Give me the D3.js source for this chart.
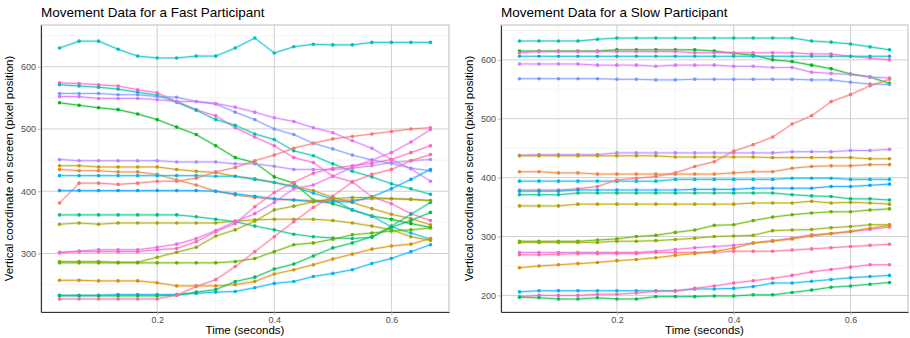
<!DOCTYPE html>
<html>
<head>
<meta charset="utf-8">
<script src="https://cdn.jsdelivr.net/npm/d3@7"></script>
<style>
  body { margin: 0; background: #fff; }
  text { font-family: "Liberation Sans", Arial, sans-serif; }
</style>
</head>
<body>
<svg id="chart" width="910" height="338"></svg>
<script>
// sample times (seconds), one frame every 1/30 s
const times = [0.0333, 0.0667, 0.1, 0.1333, 0.1667, 0.2, 0.2333, 0.2667, 0.3, 0.3333,
  0.3667, 0.4, 0.4333, 0.4667, 0.5, 0.5333, 0.5667, 0.6, 0.6333, 0.6667];

const xTicks = [0.2, 0.4, 0.6];
const fastYTicks = [300, 400, 500, 600];
const slowYTicks = [200, 300, 400, 500, 600];

// fast participant: one row per trace, colour index into the 22-hue palette
const fastHue = [11, 19, 10, 15, 17, 7, 16, 3, 1, 12, 0, 14, 9, 4, 20, 18, 5, 6, 2, 13, 8, 21];
const fastY = [
  [630, 641, 641, 628, 617, 614, 614, 617, 617, 630, 646, 622, 632, 636, 635, 635, 639, 639, 639, 639],
  [574, 573, 571, 569, 563, 558, 544, 531, 521, 502, 487, 473, 454, 446, 424, 415, 391, 380, 364, 353],
  [571, 569, 567, 564, 559, 554, 543, 530, 515, 506, 492, 483, 465, 457, 444, 432, 423, 412, 404, 395],
  [557, 557, 557, 555, 555, 552, 551, 544, 540, 527, 515, 500, 491, 477, 468, 458, 450, 445, 437, 433],
  [552, 552, 549, 549, 549, 547, 544, 544, 541, 535, 527, 518, 512, 502, 494, 481, 469, 451, 436, 416],
  [542, 538, 534, 531, 524, 515, 503, 491, 473, 454, 446, 423, 413, 386, 380, 370, 360, 355, 348, 342],
  [451, 449, 449, 449, 449, 449, 447, 447, 447, 444, 444, 440, 435, 435, 435, 437, 441, 446, 449, 451],
  [441, 441, 439, 439, 439, 439, 435, 432, 430, 424, 420, 414, 408, 401, 390, 382, 372, 363, 356, 346],
  [435, 433, 433, 431, 431, 427, 418, 410, 400, 394, 390, 387, 386, 385, 385, 386, 388, 388, 387, 385],
  [425, 425, 425, 425, 425, 425, 425, 425, 424, 424, 419, 414, 407, 397, 387, 370, 360, 343, 333, 323],
  [381, 413, 413, 411, 413, 416, 416, 421, 431, 438, 449, 458, 469, 477, 484, 488, 492, 496, 500, 502],
  [401, 401, 401, 401, 401, 401, 401, 401, 400, 396, 392, 388, 386, 383, 383, 383, 391, 404, 419, 435],
  [362, 362, 362, 362, 362, 362, 362, 359, 355, 351, 344, 338, 331, 327, 325, 324, 326, 344, 363, 382],
  [347, 349, 347, 349, 349, 349, 349, 349, 349, 352, 354, 355, 355, 355, 353, 349, 344, 338, 327, 321],
  [302, 303, 303, 303, 303, 306, 308, 319, 335, 348, 375, 398, 414, 429, 437, 441, 445, 451, 462, 473],
  [301, 304, 306, 306, 306, 310, 315, 324, 337, 351, 364, 382, 404, 410, 424, 439, 450, 462, 479, 499],
  [287, 287, 287, 286, 286, 294, 302, 310, 328, 338, 352, 370, 376, 383, 388, 390, 390, 388, 387, 385],
  [285, 285, 285, 285, 285, 285, 285, 285, 285, 287, 292, 303, 314, 317, 323, 330, 333, 336, 338, 341],
  [257, 257, 256, 256, 256, 253, 248, 248, 248, 250, 255, 267, 274, 282, 291, 299, 307, 312, 315, 324],
  [233, 233, 233, 234, 234, 234, 234, 236, 238, 239, 245, 252, 255, 263, 268, 274, 284, 292, 303, 314],
  [232, 232, 232, 232, 232, 232, 233, 238, 242, 255, 262, 275, 283, 296, 309, 317, 327, 342, 353, 366],
  [227, 227, 227, 227, 227, 227, 233, 247, 258, 279, 303, 327, 351, 374, 392, 415, 427, 435, 449, 459]
];

// slow participant
const slowHue = [10, 7, 19, 11, 17, 15, 16, 3, 1, 12, 0, 14, 9, 4, 6, 5, 18, 21, 2, 13, 20, 8];
const slowY = [
  [632, 632, 632, 632, 635, 637, 637, 637, 637, 637, 637, 637, 637, 637, 637, 632, 630, 627, 622, 617],
  [615, 615, 615, 615, 615, 617, 617, 617, 617, 617, 615, 611, 608, 600, 597, 591, 585, 576, 571, 560],
  [612, 614, 614, 614, 614, 614, 614, 614, 614, 612, 612, 612, 612, 612, 612, 610, 610, 606, 603, 600],
  [606, 606, 606, 606, 606, 606, 606, 606, 606, 606, 606, 606, 606, 606, 606, 606, 606, 606, 606, 606],
  [593, 593, 593, 593, 591, 591, 591, 589, 591, 591, 591, 589, 589, 587, 587, 579, 577, 575, 571, 569],
  [568, 568, 568, 568, 568, 567, 567, 566, 566, 567, 567, 567, 567, 567, 567, 566, 566, 562, 559, 558],
  [438, 439, 439, 439, 439, 442, 442, 442, 442, 442, 442, 442, 442, 442, 444, 444, 444, 446, 446, 448],
  [437, 437, 437, 437, 437, 437, 437, 437, 435, 435, 435, 435, 435, 434, 434, 434, 434, 434, 432, 432],
  [410, 410, 408, 408, 406, 406, 406, 406, 406, 406, 406, 408, 410, 410, 416, 419, 420, 420, 422, 422],
  [394, 394, 394, 394, 394, 394, 394, 394, 397, 397, 397, 397, 397, 397, 399, 399, 399, 397, 397, 397],
  [379, 379, 379, 381, 385, 396, 399, 402, 408, 419, 427, 445, 456, 469, 491, 505, 529, 541, 556, 567],
  [377, 377, 377, 379, 379, 379, 379, 379, 379, 380, 380, 380, 382, 382, 382, 382, 385, 385, 387, 389],
  [371, 371, 371, 374, 374, 374, 374, 374, 374, 374, 374, 374, 374, 374, 371, 369, 368, 364, 364, 362],
  [352, 352, 352, 355, 355, 355, 355, 355, 355, 355, 355, 355, 357, 357, 357, 360, 357, 358, 357, 355],
  [292, 292, 292, 292, 294, 296, 300, 302, 307, 311, 319, 320, 327, 333, 337, 340, 342, 342, 345, 347],
  [290, 290, 290, 290, 290, 292, 292, 293, 295, 297, 300, 301, 302, 310, 311, 312, 315, 317, 320, 320],
  [273, 273, 273, 273, 273, 273, 273, 275, 278, 281, 283, 285, 289, 293, 297, 303, 305, 308, 312, 316],
  [269, 269, 270, 271, 271, 271, 271, 273, 273, 273, 273, 275, 275, 275, 277, 279, 281, 283, 285, 287],
  [247, 250, 252, 254, 256, 259, 261, 264, 268, 271, 275, 280, 289, 292, 296, 301, 305, 309, 314, 319],
  [206, 208, 208, 208, 208, 208, 208, 208, 208, 211, 211, 212, 215, 221, 221, 224, 227, 230, 232, 234],
  [198, 200, 200, 200, 202, 202, 204, 207, 207, 212, 216, 221, 225, 229, 234, 240, 244, 248, 252, 252],
  [197, 196, 194, 194, 196, 194, 194, 198, 198, 198, 199, 199, 201, 201, 205, 209, 214, 216, 219, 222]
];

// ggplot-style hue palette (polar CIE-Luv, c=100, l=65)
function hclLuv(h, c, l) {
  const hr = h * Math.PI / 180;
  const u = c * Math.cos(hr), v = c * Math.sin(hr);
  const Xn = 95.047, Yn = 100, Zn = 108.883;
  const den = Xn + 15 * Yn + 3 * Zn;
  const un = 4 * Xn / den, vn = 9 * Yn / den;
  const Y = l > 8 ? Yn * Math.pow((l + 16) / 116, 3) : Yn * l / 903.3;
  const up = u / (13 * l) + un, vp = v / (13 * l) + vn;
  const X = 9 * Y * up / (4 * vp);
  const Z = Y * (12 - 3 * up - 20 * vp) / (4 * vp);
  const x = X / 100, y = Y / 100, z = Z / 100;
  const r = 3.2404542 * x - 1.5371385 * y - 0.4985314 * z;
  const g = -0.969266 * x + 1.8760108 * y + 0.041556 * z;
  const b = 0.0556434 * x - 0.2040259 * y + 1.0572252 * z;
  const gam = t => {
    t = t <= 0.0031308 ? 12.92 * t : 1.055 * Math.pow(t, 1 / 2.4) - 0.055;
    return Math.round(255 * Math.max(0, Math.min(1, t)));
  };
  return d3.rgb(gam(r), gam(g), gam(b)).formatHex();
}
const nHue = 22;
const palette = d3.range(nHue).map(i => hclLuv(15 + i * 360 / nHue, 100, 65));

const svg = d3.select("#chart");

function expand(lo, hi) {
  const pad = (hi - lo) * 0.05;
  return [lo - pad, hi + pad];
}

function drawPanel(box, title, series, hues, yTicks) {
  const allY = series.flat();
  const x = d3.scaleLinear()
    .domain(expand(d3.min(times), d3.max(times)))
    .range([box.x0, box.x1]);
  const y = d3.scaleLinear()
    .domain(expand(d3.min(allY), d3.max(allY)))
    .range([box.y1, box.y0]);

  const g = svg.append("g");

  // minor grid (half way between the major ticks)
  const step = yTicks[1] - yTicks[0];
  const yMinor = d3.range(yTicks[0] - step / 2, y.domain()[1], step).filter(v => v > y.domain()[0]);
  const xMinor = [0.1, 0.3, 0.5];
  g.append("g").selectAll("line").data(yMinor).join("line")
    .attr("x1", box.x0).attr("x2", box.x1)
    .attr("y1", d => y(d)).attr("y2", d => y(d))
    .attr("stroke", "#EFEFEF").attr("stroke-width", 0.6);
  g.append("g").selectAll("line").data(xMinor).join("line")
    .attr("y1", box.y0).attr("y2", box.y1)
    .attr("x1", d => x(d)).attr("x2", d => x(d))
    .attr("stroke", "#EFEFEF").attr("stroke-width", 0.6);

  // major grid
  g.append("g").selectAll("line").data(yTicks).join("line")
    .attr("x1", box.x0).attr("x2", box.x1)
    .attr("y1", d => y(d)).attr("y2", d => y(d))
    .attr("stroke", "#D0D0D0").attr("stroke-width", 1);
  g.append("g").selectAll("line").data(xTicks).join("line")
    .attr("y1", box.y0).attr("y2", box.y1)
    .attr("x1", d => x(d)).attr("x2", d => x(d))
    .attr("stroke", "#D0D0D0").attr("stroke-width", 1);

  // panel border (light) top/right
  g.append("rect")
    .attr("x", box.x0).attr("y", box.y0)
    .attr("width", box.x1 - box.x0).attr("height", box.y1 - box.y0)
    .attr("fill", "none").attr("stroke", "#BDBDBD").attr("stroke-width", 1);

  const line = d3.line().x((d, i) => x(times[i])).y(d => y(d));

  const traces = g.append("g").selectAll("g").data(series).join("g");
  // soft halo under every trace
  traces.append("path")
    .attr("d", d => line(d))
    .attr("fill", "none")
    .attr("stroke", (d, i) => palette[hues[i]])
    .attr("stroke-opacity", 0.22)
    .attr("stroke-width", 2.6);
  traces.append("path")
    .attr("d", d => line(d))
    .attr("fill", "none")
    .attr("stroke", (d, i) => palette[hues[i]])
    .attr("stroke-width", 0.8);
  traces.each(function (d, i) {
    d3.select(this).selectAll("circle").data(d).join("circle")
      .attr("cx", (v, j) => x(times[j]))
      .attr("cy", v => y(v))
      .attr("r", 1.8)
      .attr("fill", palette[hues[i]]);
  });

  // axes
  const yAxis = g.append("g")
    .attr("transform", `translate(${box.x0},0)`)
    .call(d3.axisLeft(y).tickValues(yTicks).tickSize(3).tickSizeOuter(0).tickPadding(2));
  const xAxis = g.append("g")
    .attr("transform", `translate(0,${box.y1})`)
    .call(d3.axisBottom(x).tickValues(xTicks).tickFormat(d3.format(".1f")).tickSize(3).tickSizeOuter(0).tickPadding(2));
  [xAxis, yAxis].forEach(a => {
    a.select(".domain").attr("stroke", "#333").attr("stroke-width", 1.1);
    a.selectAll(".tick line").attr("stroke", "#B3B3B3");
    a.selectAll(".tick text")
      .attr("fill", "#4D4D4D")
      .style("font-size", "9px")
      .style("font-family", "'Liberation Sans', Arial, sans-serif");
  });

  // titles
  g.append("text")
    .attr("x", box.x0).attr("y", 17)
    .attr("font-size", 13.5)
    .attr("fill", "#000")
    .text(title);
  g.append("text")
    .attr("x", (box.x0 + box.x1) / 2).attr("y", 334)
    .attr("text-anchor", "middle")
    .attr("font-size", 11.5)
    .text("Time (seconds)");
  g.append("text")
    .attr("transform", `translate(${box.x0 - 28},${(box.y0 + box.y1) / 2}) rotate(-90)`)
    .attr("text-anchor", "middle")
    .attr("font-size", 11.5)
    .text("Vertical coordinate on screen (pixel position)");
}

drawPanel({ x0: 41, x1: 449, y0: 25, y1: 312 }, "Movement Data for a Fast Participant", fastY, fastHue, fastYTicks);
drawPanel({ x0: 501, x1: 908, y0: 25, y1: 312 }, "Movement Data for a Slow Participant", slowY, slowHue, slowYTicks);
</script>
</body>
</html>
